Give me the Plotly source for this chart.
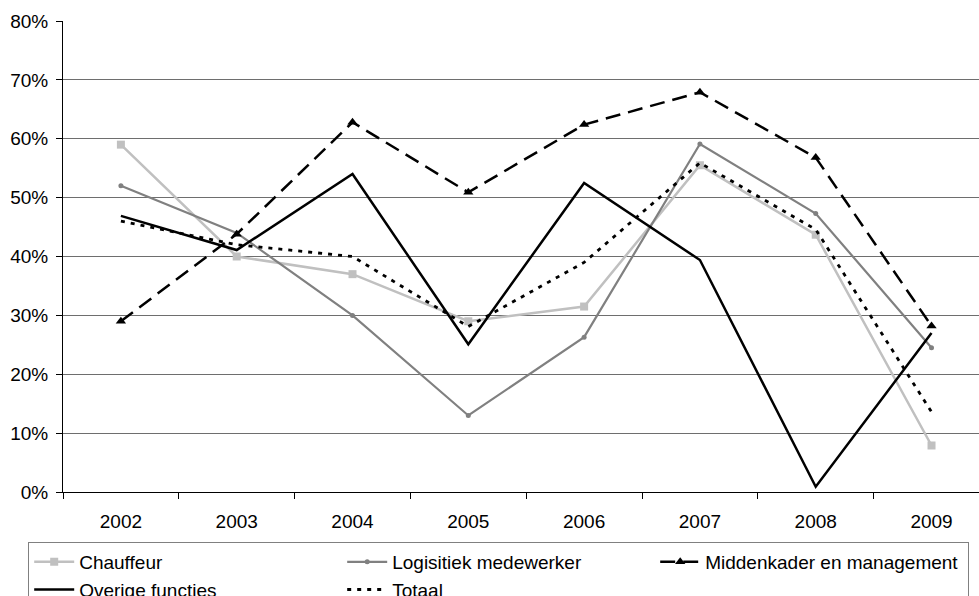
import plotly.graph_objects as go

years = ["2002", "2003", "2004", "2005", "2006", "2007", "2008", "2009"]

chauffeur = [0.59, 0.40, 0.37, 0.29, 0.315, 0.555, 0.437, 0.079]
logistiek = [0.52, 0.44, 0.30, 0.13, 0.263, 0.591, 0.473, 0.245]
middenkader = [0.29, 0.438, 0.628, 0.509, 0.624, 0.679, 0.568, 0.282]
overige = [0.469, 0.411, 0.540, 0.251, 0.525, 0.394, 0.009, 0.270]
totaal = [0.460, 0.420, 0.400, 0.281, 0.390, 0.559, 0.446, 0.136]

y_ticks = [0, 0.1, 0.2, 0.3, 0.4, 0.5, 0.6, 0.7, 0.8]

FONT = "Liberation Sans, Arial, sans-serif"

fig = go.Figure()

fig.add_trace(go.Scatter(
    x=years, y=chauffeur, name="Chauffeur", mode="lines+markers",
    line=dict(color="#c0c0c0", width=2.5),
    marker=dict(symbol="square", size=8, color="#c0c0c0"),
))
fig.add_trace(go.Scatter(
    x=years, y=logistiek, name="Logisitiek medewerker", mode="lines+markers",
    line=dict(color="#808080", width=2.2),
    marker=dict(symbol="circle", size=5, color="#808080"),
))
fig.add_trace(go.Scatter(
    x=years, y=middenkader, name="Middenkader en management", mode="lines+markers",
    line=dict(color="#000000", width=2.5, dash="15px,8px"),
    marker=dict(symbol="triangle-up", size=9, color="#000000"),
))
fig.add_trace(go.Scatter(
    x=years, y=overige, name="Overige functies", mode="lines",
    line=dict(color="#000000", width=2.5),
))
fig.add_trace(go.Scatter(
    x=years, y=totaal, name="Totaal", mode="lines",
    line=dict(color="#000000", width=2.8, dash="4px,6px"),
))

fig.update_layout(
    width=979, height=596,
    margin=dict(l=63, r=0, t=21, b=104, autoexpand=False),
    paper_bgcolor="white", plot_bgcolor="white",
    font=dict(family=FONT, size=19, color="#000000"),
    showlegend=True,
    legend=dict(
        orientation="h",
        x=-0.038, xanchor="left",
        y=-0.106, yanchor="top",
        bordercolor="#808080", borderwidth=1,
        entrywidth=258, entrywidthmode="pixels",
        itemwidth=40,
        font=dict(family=FONT, size=19),
        traceorder="normal",
    ),
    xaxis=dict(
        type="category",
        range=[-0.5, 7.41],
        showgrid=False,
        showline=True, linecolor="#000000", linewidth=1,
        ticks="outside", tickson="boundaries", ticklen=6,
        tickcolor="#000000",
        tickfont=dict(family=FONT, size=19),
        ticklabelstandoff=12,
        zeroline=False,
    ),
    yaxis=dict(
        range=[0, 0.8],
        tickvals=y_ticks,
        tickformat=".0%",
        showgrid=True, gridcolor="#6e6e6e", gridwidth=1,
        showline=True, linecolor="#000000", linewidth=1,
        ticks="outside", ticklen=6, tickcolor="#000000",
        tickfont=dict(family=FONT, size=19),
        ticklabelstandoff=4,
        zeroline=False,
    ),
)

fig.write_html("out.html")
